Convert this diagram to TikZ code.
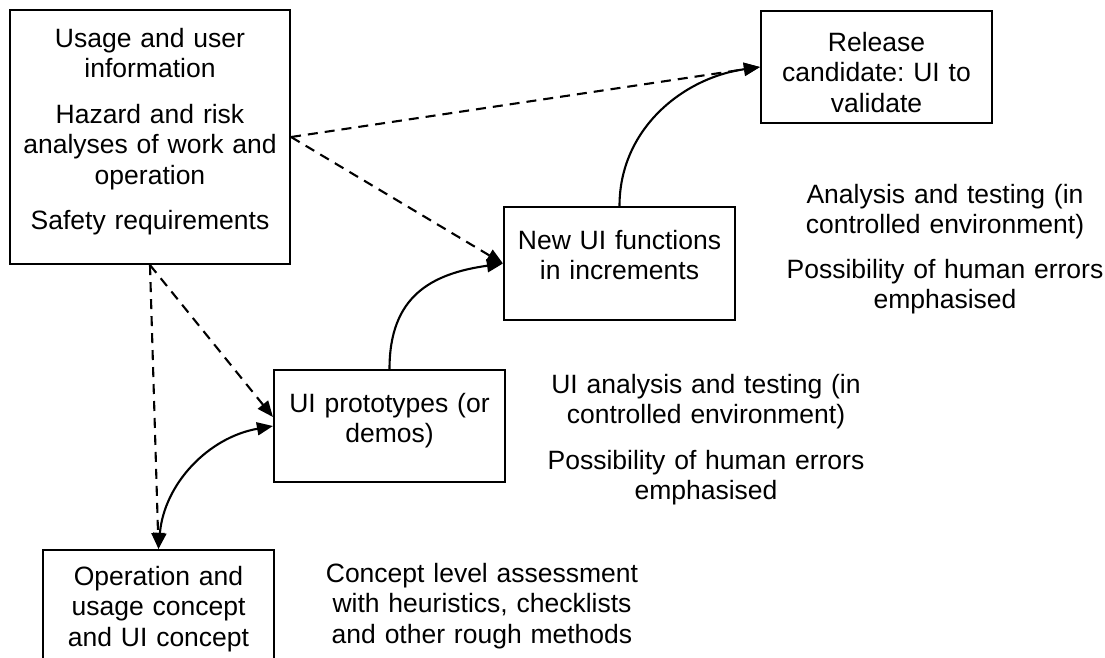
\documentclass[tikz,border=0pt]{standalone}
\usepackage{fontspec}
\setmainfont{Liberation Sans}
\usetikzlibrary{arrows.meta}
\frenchspacing
\begin{document}
\begin{tikzpicture}[x=1pt,y=1pt,
  box/.style={draw, line width=2.1pt, inner sep=0pt},
  txt/.style={font=\fontsize{26.5pt}{30.5pt}\selectfont, align=center,
              text width=420pt, inner sep=0pt, anchor=base},
  tip/.style={-{Triangle[length=16pt,width=13pt]}},
  conn/.style={line width=2.1pt, tip},
  dconn/.style={conn, dash pattern=on 10pt off 7pt},
  both/.style={line width=2.1pt, {Triangle[length=16pt,width=13pt]}-{Triangle[length=16pt,width=13pt]}}
]
\path[use as bounding box] (0,0) rectangle (1105,-657);
\clip (0,0) rectangle (1105,-657);

% boxes
\node[box, minimum width=280pt, minimum height=254pt] (A) at (150,-137) {};
\node[box, minimum width=231pt, minimum height=130pt] (B) at (158.5,-615) {};
\node[box, minimum width=231pt, minimum height=112pt] (C) at (389.5,-426) {};
\node[box, minimum width=231pt, minimum height=113pt] (D) at (619.5,-263.5) {};
\node[box, minimum width=231pt, minimum height=112pt] (E) at (876.5,-67) {};

% box texts
\node[txt] (Atext) at (150,-47) {Usage and user\\information\\[15pt]Hazard and risk\\analyses of work and\\operation\\[15pt]Safety requirements};
\node[txt] (Btext) at (158.5,-585) {Operation and\\usage concept\\and UI concept};
\node[txt] (Ctext) at (389.5,-412) {UI prototypes (or\\demos)};
\node[txt] (Dtext) at (619.5,-249) {New UI functions\\in increments};
\node[txt] (Etext) at (876.5,-51) {Release\\candidate: UI to\\validate};

% free annotations
\node[txt] (T1) at (945,-203) {Analysis and testing (in\\controlled environment)\\[14pt]Possibility of human errors\\emphasised};
\node[txt] (T2) at (706,-393) {UI analysis and testing (in\\controlled environment)\\[15pt]Possibility of human errors\\emphasised};
\node[txt] (T3) at (482,-582) {Concept level assessment\\with heuristics, checklists\\and other rough methods};

% dashed influences from the requirements box
\draw[dconn] (A.east) -- (E.west);
\draw[dconn] (A.east) -- (D.west);
\draw[dconn] (A.south) -- (B.north);
\draw[dconn] (A.south) -- ([yshift=9pt]C.west);

% development flow
\draw[both] (B.north) to[out=85, in=190] (C.west);
\draw[conn] (C.north) to[out=90, in=188, looseness=1.2] (D.west);
\draw[conn] (D.north) to[out=90, in=188] (E.west);
\end{tikzpicture}
\end{document}
